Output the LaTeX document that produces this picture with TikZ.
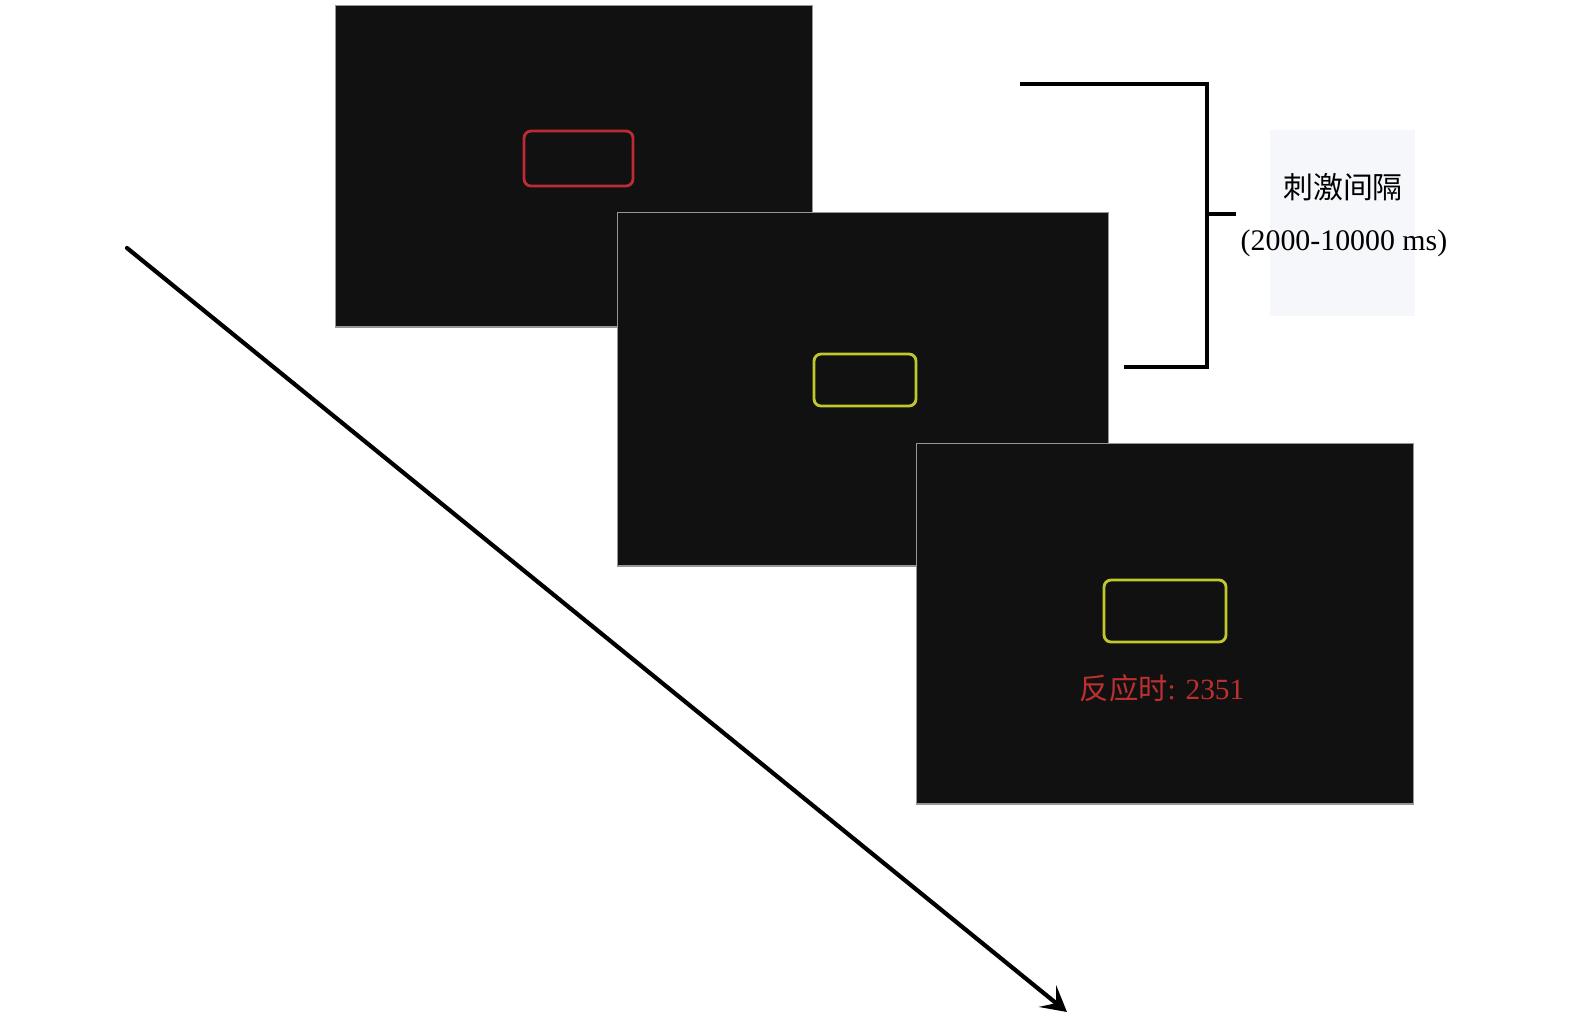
\documentclass[tikz,border=0pt]{standalone}
\usepackage{fontspec}
\setmainfont{Liberation Serif}
\newfontfamily\cjk{Noto Sans CJK SC}
\usepackage{tikz}
\usetikzlibrary{arrows.meta,positioning}
\definecolor{scrblack}{RGB}{17,17,17}
\definecolor{scredge}{RGB}{150,150,150}
\definecolor{cuered}{RGB}{188,44,50}
\definecolor{cueyellow}{RGB}{192,200,44}
\definecolor{txtred}{RGB}{190,48,48}
\definecolor{labelbg}{RGB}{245,247,251}
\tikzset{
  screen/.style={draw=scredge, line width=0.6pt, fill=scrblack, inner sep=0pt},
  redcue/.style={draw=cuered, line width=1.6pt, rounded corners=4pt, inner sep=0pt},
  yellowcue/.style={draw=cueyellow, line width=1.6pt, rounded corners=4pt, inner sep=0pt},
  rtlabel/.style={font=\fontsize{16.7}{20}\selectfont, text=txtred, inner sep=0pt},
  isilabel/.style={font=\fontsize{17}{20}\selectfont, inner sep=0pt},
  labelbox/.style={fill=labelbg, inner sep=0pt},
  bracketline/.style={line width=2.8pt, line cap=rect},
  timearr/.style={-{Stealth[length=5mm,width=5.5mm,inset=2.2mm]}, line width=2.4pt, line cap=round}
}
\begin{document}
\begin{tikzpicture}[x=0.02cm,y=-0.02cm]
    \useasboundingbox (0,0) rectangle (1575,1019);

    % trial screens
    \node[screen,minimum width=9.56cm,minimum height=6.44cm] (scr1) at (574,166) {};
    \node[redcue,minimum width=2.18cm,minimum height=1.1cm] (cue1) at (578.5,158.5) {};

    \node[screen,minimum width=9.84cm,minimum height=7.08cm] (scr2) at (863,389) {};
    \node[yellowcue,minimum width=2.04cm,minimum height=1.04cm] (cue2) at (865,380) {};

    \node[screen,minimum width=9.96cm,minimum height=7.22cm] (scr3) at (1165,623.5) {};
    \node[yellowcue,minimum width=2.44cm,minimum height=1.24cm] (cue3) at (1165,611) {};
    \node[rtlabel] (rt) at (1162,688) {{\cjk 反应时}: 2351};

    % interval bracket
    \coordinate (btop) at (1022,84);
    \coordinate (bcorner) at (1207,84);
    \coordinate (bbot) at (1207,367);
    \coordinate (bend) at (1126,367);
    \coordinate (bmid) at (1207,214);
    \coordinate (btick) at (1234,214);
    \draw[bracketline] (btop) -- (bcorner) -- (bbot) -- (bend);
    \draw[bracketline] (bmid) -- (btick);

    \node[labelbox,minimum width=2.9cm,minimum height=3.72cm] (isibox) at (1342.5,223) {};
    \node[isilabel] (isi) at (1343,187) {\cjk 刺激间隔};
    \node[isilabel] (isims) at (1344,243) {(2000-10000 ms)};

    % time arrow
    \coordinate (tstart) at (127,248);
    \coordinate (tend) at (1067,1012);
    \draw[timearr] (tstart) -- (tend);
\end{tikzpicture}
\end{document}
